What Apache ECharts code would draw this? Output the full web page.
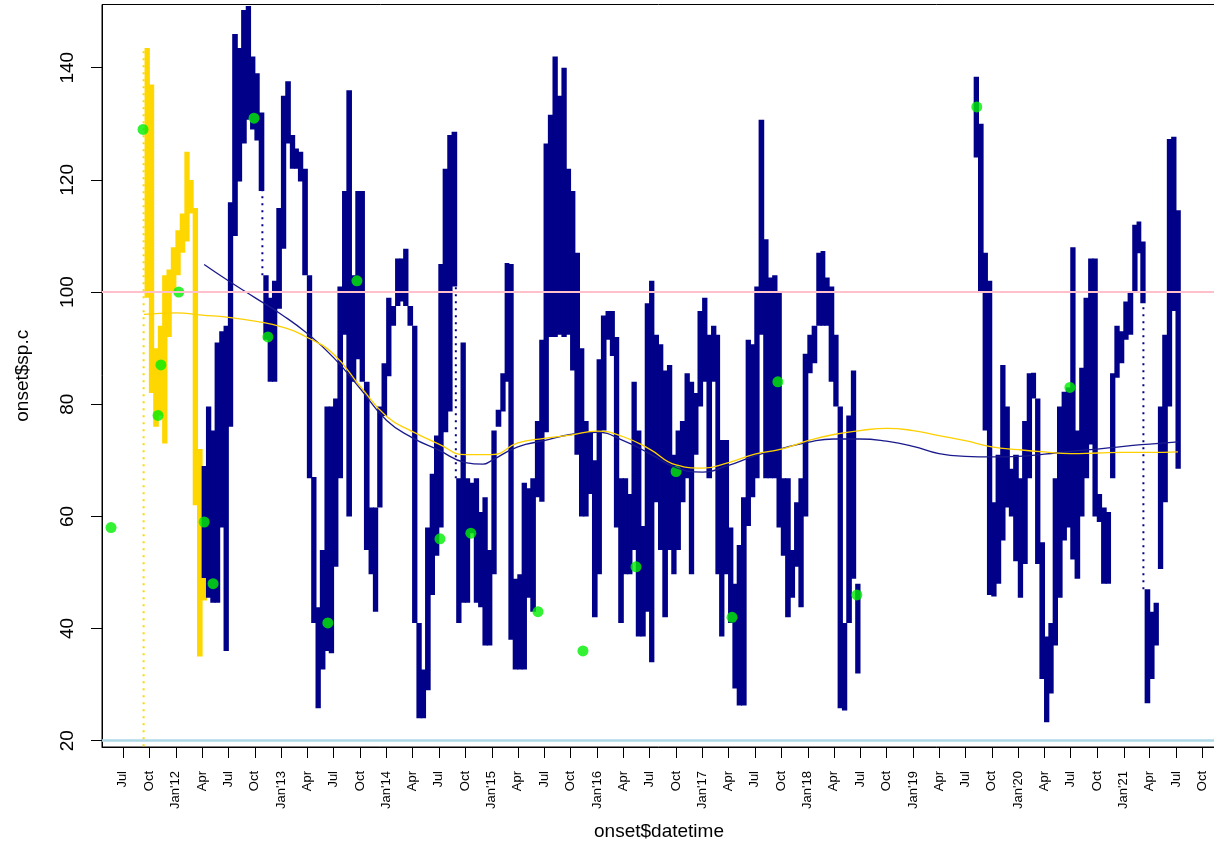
<!DOCTYPE html>
<html>
<head>
<meta charset="utf-8">
<script src="https://cdn.jsdelivr.net/npm/echarts@6/dist/echarts.min.js"></script>
<style>
  html, body { margin: 0; padding: 0; background: #fff; }
  #onset_plot { width: 1214px; height: 848px; }
</style>
</head>
<body>
<div id="onset_plot"></div>
<script>
// onset$sp.c, read per half month: [slot start, low, high]
var yellowRanges = [
  ['2011-09-16', 99, 143.5], ['2011-10-01', 82, 137], ['2011-10-16', 76, 90], ['2011-11-01', 78, 94],
  ['2011-11-16', 73, 103], ['2011-12-01', 92, 104], ['2011-12-16', 100, 108], ['2012-01-01', 103, 111],
  ['2012-01-16', 107, 114], ['2012-02-01', 109, 125], ['2012-02-16', 114, 120], ['2012-03-01', 62, 115],
  ['2012-03-16', 35, 72], ['2012-04-01', 45, 66]
];
var blueRanges = [
  ['2012-04-01', 49, 69], ['2012-04-16', 45.5, 79.6], ['2012-05-01', 44.6, 75.3], ['2012-05-16', 44.6, 91],
  ['2012-06-01', 58, 93], ['2012-06-16', 36, 94], ['2012-07-01', 76, 116], ['2012-07-16', 110, 146],
  ['2012-08-01', 119.7, 143.5], ['2012-08-16', 126.5, 150.3], ['2012-09-01', 130.7, 151], ['2012-09-16', 129, 142],
  ['2012-10-01', 127, 139], ['2012-10-16', 118, 132], ['2012-11-01', 91.5, 103], ['2012-11-16', 84, 99],
  ['2012-12-01', 84, 102], ['2012-12-16', 97, 115], ['2013-01-01', 107.7, 135], ['2013-01-16', 126.5, 137.6],
  ['2013-02-01', 122, 128], ['2013-02-16', 122, 125.6], ['2013-03-01', 119.7, 125], ['2013-03-16', 103, 122],
  ['2013-04-01', 66.8, 103], ['2013-04-16', 41, 67], ['2013-05-01', 25.8, 43.8], ['2013-05-16', 32.7, 54],
  ['2013-06-01', 36, 79.6], ['2013-06-16', 35.6, 79.6], ['2013-07-01', 51, 81], ['2013-07-16', 66.8, 101],
  ['2013-08-01', 92.4, 118], ['2013-08-16', 60, 136], ['2013-09-01', 84, 103], ['2013-09-16', 88, 118],
  ['2013-10-01', 84, 118], ['2013-10-16', 54, 84], ['2013-11-01', 49.7, 61.6], ['2013-11-16', 43, 61.6],
  ['2013-12-01', 61.6, 79.6], ['2013-12-16', 77.9, 87.3], ['2014-01-01', 85, 99], ['2014-01-16', 94, 97.5],
  ['2014-02-01', 97.5, 106], ['2014-02-16', 98.3, 106], ['2014-03-01', 97.5, 107.7], ['2014-03-16', 94, 97.5],
  ['2014-04-01', 41, 94], ['2014-04-16', 24, 41], ['2014-05-01', 24, 32.7], ['2014-05-16', 29, 58],
  ['2014-06-01', 46, 67.6], ['2014-06-16', 53, 74.4], ['2014-07-01', 58, 105], ['2014-07-16', 75, 122],
  ['2014-08-01', 78.7, 128], ['2014-08-16', 101, 128.6], ['2014-09-01', 41, 66.8], ['2014-09-16', 44.6, 91],
  ['2014-10-01', 44.6, 66.8], ['2014-10-16', 57, 66], ['2014-11-01', 44.6, 66.8], ['2014-11-16', 43.8, 60.8],
  ['2014-12-01', 37, 63.4], ['2014-12-16', 37, 54], ['2015-01-01', 49.7, 75.3], ['2015-01-16', 76, 79],
  ['2015-02-01', 78.7, 85.5], ['2015-02-16', 84, 105.2], ['2015-03-01', 38, 105], ['2015-03-16', 32.7, 48.9],
  ['2015-04-01', 32.7, 49.7], ['2015-04-16', 32.7, 66], ['2015-05-01', 45.5, 65], ['2015-05-16', 43, 66.8],
  ['2015-06-01', 63.4, 77], ['2015-06-16', 62.6, 91.5], ['2015-07-01', 75, 126.5], ['2015-07-16', 92, 131.6],
  ['2015-08-01', 92, 142], ['2015-08-16', 92.4, 135], ['2015-09-01', 92, 140], ['2015-09-16', 92.4, 122],
  ['2015-10-01', 86, 118], ['2015-10-16', 71, 107], ['2015-11-01', 60, 90], ['2015-11-16', 60, 77],
  ['2015-12-01', 64, 75], ['2015-12-16', 42, 70], ['2016-01-01', 49.7, 88], ['2016-01-16', 75.3, 95.8],
  ['2016-02-01', 91.5, 96.6], ['2016-02-16', 88.6, 96.6], ['2016-03-01', 58, 92], ['2016-03-16', 41, 66.8],
  ['2016-04-01', 49.7, 66.8], ['2016-04-16', 49.7, 64], ['2016-05-01', 54, 84], ['2016-05-16', 38.6, 75.3],
  ['2016-06-01', 38.6, 58.3], ['2016-06-16', 43, 98], ['2016-07-01', 34, 102], ['2016-07-16', 62.5, 92.4],
  ['2016-08-01', 54, 90.7], ['2016-08-16', 42, 86], ['2016-09-01', 54, 87], ['2016-09-16', 49.7, 71],
  ['2016-10-01', 54, 75.3], ['2016-10-16', 62.5, 77], ['2016-11-01', 66.8, 85.5], ['2016-11-16', 49.7, 84],
  ['2016-12-01', 71, 82], ['2016-12-16', 79.6, 96.6], ['2017-01-01', 84, 99], ['2017-01-16', 66.8, 92.4],
  ['2017-02-01', 84, 94], ['2017-02-16', 49.7, 92.4], ['2017-03-01', 38.6, 73.6], ['2017-03-16', 49.7, 73.6],
  ['2017-04-01', 41, 58], ['2017-04-16', 29.3, 48], ['2017-05-01', 26.3, 54.9], ['2017-05-16', 26.3, 63.4],
  ['2017-06-01', 58.3, 91.5], ['2017-06-16', 63.4, 90.7], ['2017-07-01', 66.8, 101], ['2017-07-16', 92.4, 130.7],
  ['2017-08-01', 66.8, 109.4], ['2017-08-16', 66.8, 102.6], ['2017-09-01', 66.8, 103], ['2017-09-16', 58, 100],
  ['2017-10-01', 53, 66.8], ['2017-10-16', 42, 66.8], ['2017-11-01', 45.5, 54], ['2017-11-16', 51, 62.5],
  ['2017-12-01', 43.8, 66.8], ['2017-12-16', 60, 89], ['2018-01-01', 85.5, 92.4], ['2018-01-16', 87.3, 94],
  ['2018-02-01', 94, 107], ['2018-02-16', 94, 107.3], ['2018-03-01', 94, 102.6], ['2018-03-16', 84, 101],
  ['2018-04-01', 79.6, 92.4], ['2018-04-16', 25.8, 79.6], ['2018-05-01', 25.4, 41], ['2018-05-16', 41, 78],
  ['2018-06-01', 48.9, 86], ['2018-06-16', 32, 48],
  ['2019-08-01', 124, 138.4], ['2019-08-16', 100, 130], ['2019-09-01', 75.3, 107], ['2019-09-16', 46, 102],
  ['2019-10-01', 45.7, 62.5], ['2019-10-16', 48, 71], ['2019-11-01', 55.7, 87], ['2019-11-16', 61.6, 79.6],
  ['2019-12-01', 60, 68.5], ['2019-12-16', 52, 71], ['2020-01-01', 45.5, 66.8], ['2020-01-16', 51.5, 77],
  ['2020-02-01', 66.8, 85.5], ['2020-02-16', 81, 85.6], ['2020-03-01', 51.5, 81], ['2020-03-16', 31, 55.4],
  ['2020-04-01', 23.3, 38.6], ['2020-04-16', 28.4, 41], ['2020-05-01', 37, 66.8], ['2020-05-16', 45.5, 79.6],
  ['2020-06-01', 55.7, 82.2], ['2020-06-16', 58, 83], ['2020-07-01', 52.3, 108], ['2020-07-16', 48.9, 75.3],
  ['2020-08-01', 60, 86.5], ['2020-08-16', 66.8, 99], ['2020-09-01', 72.8, 106], ['2020-09-16', 60, 106],
  ['2020-10-01', 59, 64], ['2020-10-16', 48, 61.6], ['2020-11-01', 48, 60.8], ['2020-11-16', 66.8, 85.5],
  ['2020-12-01', 84.7, 94], ['2020-12-16', 87.3, 93], ['2021-01-01', 91.5, 98.3], ['2021-01-16', 92.4, 100],
  ['2021-02-01', 100, 112], ['2021-02-16', 106.9, 112.6], ['2021-03-01', 98, 109], ['2021-03-16', 26.7, 47],
  ['2021-04-01', 31, 43], ['2021-04-16', 37, 44.6], ['2021-05-01', 50.6, 79.6], ['2021-05-16', 62.5, 92.4],
  ['2021-06-01', 79.6, 127.3], ['2021-06-16', 96.6, 127.7], ['2021-07-01', 68.5, 114.6]
];
// thin dotted runs of readings
var yellowDotted = [['2011-09-11', 19, 143]];
var blueDotted = [['2012-10-27', 103, 118], ['2014-08-29', 66.8, 101], ['2021-03-10', 47, 98]];

var blueSmooth = [
  ['2012-04-08', 104.9], ['2012-07-01', 102.0], ['2012-10-01', 99.0], ['2013-01-01', 96.0], ['2013-04-01', 92.6],
  ['2013-07-01', 88.3], ['2013-10-01', 82.8], ['2014-01-01', 77.1], ['2014-04-01', 74.0], ['2014-07-01', 71.8],
  ['2014-10-01', 69.6], ['2014-12-01', 69.3], ['2015-01-01', 70.0], ['2015-04-01', 72.4], ['2015-07-01', 73.5],
  ['2015-10-01', 74.6], ['2016-01-01', 75.0], ['2016-04-01', 73.5], ['2016-07-01', 71.2], ['2016-10-01', 68.7],
  ['2017-01-01', 67.9], ['2017-04-01', 69.1], ['2017-07-01', 70.8], ['2017-10-01', 72.1], ['2018-01-01', 73.2],
  ['2018-04-01', 73.8], ['2018-07-01', 73.8], ['2018-10-01', 73.4], ['2019-01-01', 72.5], ['2019-04-01', 71.2],
  ['2019-07-01', 70.7], ['2019-10-01', 70.6], ['2020-01-01', 70.7], ['2020-04-01', 71.1], ['2020-07-01', 71.6],
  ['2020-10-01', 72.0], ['2021-01-01', 72.5], ['2021-04-01', 72.9], ['2021-07-08', 73.3]
];
var yellowSmooth = [
  ['2011-09-12', 96.0], ['2012-01-01', 96.3], ['2012-04-01', 95.9], ['2012-07-01', 95.5], ['2012-10-01', 94.8],
  ['2013-01-01', 93.8], ['2013-04-01', 91.9], ['2013-07-01', 88.9], ['2013-10-01', 83.2], ['2014-01-01', 77.8],
  ['2014-04-01', 75.1], ['2014-07-01', 72.9], ['2014-10-01', 71.0], ['2015-01-01', 71.0], ['2015-04-01', 73.1],
  ['2015-07-01', 73.9], ['2015-10-01', 74.5], ['2016-01-01', 75.2], ['2016-04-01', 74.2], ['2016-07-01', 72.0],
  ['2016-10-01', 69.2], ['2017-01-01', 68.6], ['2017-04-01', 69.6], ['2017-07-01', 71.1], ['2017-10-01', 72.0],
  ['2018-01-01', 73.5], ['2018-04-01', 74.6], ['2018-07-01', 75.3], ['2018-10-01', 75.7], ['2019-01-01', 75.3],
  ['2019-04-01', 74.4], ['2019-07-01', 73.5], ['2019-10-01', 72.4], ['2020-01-01', 71.9], ['2020-04-01', 71.5],
  ['2020-07-01', 71.2], ['2020-10-01', 71.3], ['2021-01-01', 71.4], ['2021-04-01', 71.4], ['2021-07-08', 71.5]
];
var onsetPoints = [
  ['2011-05-21', 58], ['2011-09-09', 129], ['2011-10-31', 78], ['2011-11-10', 87], ['2012-01-11', 100],
  ['2012-04-08', 59], ['2012-05-09', 48], ['2012-09-28', 131], ['2012-11-15', 92], ['2013-06-11', 41],
  ['2013-09-20', 102], ['2014-07-05', 56], ['2014-10-20', 57], ['2015-06-10', 43], ['2015-11-13', 36],
  ['2016-05-15', 51], ['2016-10-01', 68], ['2017-04-13', 42], ['2017-09-19', 84], ['2018-06-20', 46],
  ['2019-08-10', 133], ['2020-06-28', 83]
];
var yTicks = [20, 40, 60, 80, 100, 120, 140];
var quarterNames = ['Jan', 'Apr', 'Jul', 'Oct'];
var tickYears = [2011, 2012, 2013, 2014, 2015, 2016, 2017, 2018, 2019, 2020, 2021];
var hLines = [100, 20];

function ts(s) {
  var p = s.split('-');
  return new Date(+p[0], +p[1] - 1, +p[2]).getTime();
}
function withTime(rows) {
  return rows.map(function (r) { return [ts(r[0])].concat(r.slice(1)); });
}

// quarterly ticks Jul'11 .. Oct'21
var xTicks = [], xTickLabels = {};
tickYears.forEach(function (y) {
  quarterNames.forEach(function (m, q) {
    if (y === 2011 && q < 2) return;
    var t = new Date(y, q * 3, 1).getTime();
    xTicks.push(t);
    xTickLabels[t] = q === 0 ? m + "'" + String(y).slice(2) : m;
  });
});

function slotEnd(t) {
  var d = new Date(t);
  if (d.getDate() < 16) return new Date(d.getFullYear(), d.getMonth(), 16).getTime();
  return new Date(d.getFullYear(), d.getMonth() + 1, 1).getTime();
}
// one half-month column of readings, slightly widened so neighbours join
function rangeBars(color) {
  return function (params, api) {
    var t = api.value(0);
    var a = api.coord([t, api.value(2)]);
    var b = api.coord([slotEnd(t), api.value(1)]);
    return { type: 'rect', shape: { x: a[0] - 0.5, y: a[1], width: b[0] - a[0] + 1, height: b[1] - a[1] },
             style: { fill: color } };
  };
}
function dottedColumn(color) {
  return function (params, api) {
    var a = api.coord([api.value(0), api.value(1)]);
    var b = api.coord([api.value(0), api.value(2)]);
    return { type: 'line', shape: { x1: a[0], y1: a[1], x2: b[0], y2: b[1] },
             style: { stroke: color, lineWidth: 2, lineDash: [2, 5] } };
  };
}

var font = 'Liberation Sans, Arial, Helvetica, sans-serif';
var myChart = echarts.init(document.getElementById('onset_plot'));
myChart.setOption({
  animation: false,
  backgroundColor: '#fff',
  grid: {
    left: 102, right: -2, top: 4.5, bottom: 101,
    show: true, borderColor: '#000', borderWidth: 1, backgroundColor: 'transparent',
    outerBoundsMode: 'none'
  },
  xAxis: {
    type: 'value',
    min: new Date(2011, 3, 19, 16).getTime(),
    max: new Date(2021, 10, 16, 20).getTime(),
    name: 'onset$datetime', nameLocation: 'middle', nameGap: 75,
    nameTextStyle: { fontFamily: font, fontSize: 19, color: '#000' },
    splitLine: { show: false },
    axisLine: { show: true, lineStyle: { color: '#000', width: 1 } },
    axisTick: { show: true, customValues: xTicks, length: 11, lineStyle: { color: '#000', width: 1 } },
    axisLabel: {
      customValues: xTicks, rotate: 90, margin: 24,
      fontFamily: font, fontSize: 13, color: '#000',
      formatter: function (v) { return xTickLabels[v] || ''; }
    }
  },
  yAxis: {
    type: 'value', min: 18.88, max: 151.27,
    name: 'onset$sp.c', nameLocation: 'middle', nameGap: 70,
    nameTextStyle: { fontFamily: font, fontSize: 19, color: '#000' },
    splitLine: { show: false },
    axisLine: { show: true, lineStyle: { color: '#000', width: 1 } },
    axisTick: { show: true, customValues: yTicks, length: 11, lineStyle: { color: '#000', width: 1 } },
    axisLabel: { customValues: yTicks, rotate: 90, margin: 25, fontFamily: font, fontSize: 19, color: '#000' }
  },
  series: [
    { name: 'early', type: 'custom', clip: true, renderItem: rangeBars('#FFD700'),
      encode: { x: 0, y: [1, 2] }, data: withTime(yellowRanges) },
    { name: 'early dots', type: 'custom', clip: true, renderItem: dottedColumn('#FFD700'),
      encode: { x: 0, y: [1, 2] }, data: withTime(yellowDotted) },
    { name: 'sp.c', type: 'custom', clip: true, renderItem: rangeBars('#000088'),
      encode: { x: 0, y: [1, 2] }, data: withTime(blueRanges) },
    { name: 'sp.c dots', type: 'custom', clip: true, renderItem: dottedColumn('#000088'),
      encode: { x: 0, y: [1, 2] }, data: withTime(blueDotted) },
    { name: 'smooth sp.c', type: 'line', smooth: true, showSymbol: false, data: withTime(blueSmooth),
      lineStyle: { color: '#1a1a8c', width: 1.3 } },
    { name: 'smooth early', type: 'line', smooth: true, showSymbol: false, data: withTime(yellowSmooth),
      lineStyle: { color: '#FFD000', width: 1.3 },
      markLine: {
        silent: true, symbol: 'none', label: { show: false },
        data: [
          { yAxis: hLines[0], lineStyle: { color: '#FFC0CB', width: 2, type: 'solid' } },
          { yAxis: hLines[1], lineStyle: { color: '#ADD8E6', width: 2.5, type: 'solid' } }
        ]
      } },
    { name: 'onset', type: 'scatter', symbol: 'circle', symbolSize: 11, data: withTime(onsetPoints),
      itemStyle: { color: '#00EE00' } }
  ]
});
</script>
</body>
</html>
